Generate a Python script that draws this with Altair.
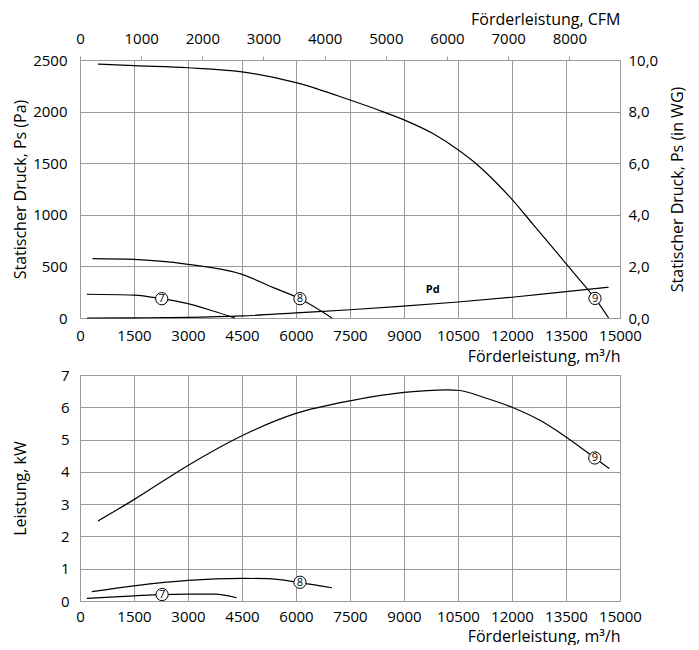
import altair as alt
import pandas as pd

# ---- top panel: static pressure (Pa) vs flow (m3/h)
c9_q = [500, 1500, 3000, 4500, 6000, 7500, 8250, 9000, 9815, 10500, 11020, 11480, 12000, 12590, 13060, 13500, 13890, 14140, 14306, 14685]
c9_p = [2460, 2445, 2425, 2385, 2280, 2112, 2020, 1920, 1785, 1630, 1490, 1340, 1150, 905, 710, 527, 365, 262, 190, 0]
c8_q = [350, 1500, 3000, 4500, 5370, 6110, 7000]
c8_p = [575, 568, 520, 423, 294, 187, 0]
c7_q = [190, 1500, 2270, 3000, 3700, 4300]
c7_p = [230, 222, 187, 140, 68, 0]
pd_q = [200, 1500, 3000, 4500, 6000, 7500, 8890, 10500, 12000, 13500, 14685]
pd_p = [0, 2, 6, 20, 50, 80, 113, 155, 201, 255, 298]

top_mark_id = ["7", "8", "9"]
top_mark_q = [2270, 6110, 14306]
top_mark_p = [187, 187, 190]

# ---- bottom panel: power (kW) vs flow (m3/h)
b9_q = [500, 1500, 3000, 4500, 6000, 7500, 9000, 10200, 10550, 11200, 12000, 12800, 13450, 14300, 14700]
b9_p = [2.48, 3.14, 4.2, 5.12, 5.81, 6.2, 6.46, 6.54, 6.52, 6.31, 6.0, 5.58, 5.12, 4.43, 4.1]
b8_q = [330, 1500, 3000, 4500, 5200, 6100, 7000]
b8_p = [0.29, 0.47, 0.64, 0.70, 0.69, 0.57, 0.41]
b7_q = [190, 1500, 2280, 3000, 3750, 4350]
b7_p = [0.08, 0.16, 0.20, 0.21, 0.21, 0.10]

bot_mark_id = ["7", "8", "9"]
bot_mark_q = [2280, 6110, 14300]
bot_mark_p = [0.20, 0.58, 4.43]

x_ticks = list(range(0, 15001, 1500))
cfm_ticks = list(range(0, 8001, 1000))
pa_ticks = list(range(0, 2501, 500))
wg_ticks = [0, 2, 4, 6, 8, 10]
kw_ticks = list(range(0, 8))

FONT = "Open Sans"
GRID = "#9a9a9a"


def long_df(pairs):
    rows = []
    for name, qs, ps in pairs:
        for q, p in zip(qs, ps):
            rows.append({"curve": name, "q": q, "p": p})
    return pd.DataFrame(rows)


top_df = long_df([("9", c9_q, c9_p), ("8", c8_q, c8_p), ("7", c7_q, c7_p), ("Pd", pd_q, pd_p)])
top_marks = pd.DataFrame({"id": top_mark_id, "q": top_mark_q, "p": top_mark_p})
bot_df = long_df([("9", b9_q, b9_p), ("8", b8_q, b8_p), ("7", b7_q, b7_p)])
bot_marks = pd.DataFrame({"id": bot_mark_id, "q": bot_mark_q, "p": bot_mark_p})


def make_x(label_pad, title_pad):
    return alt.X(
        "q:Q",
        scale=alt.Scale(domain=[0, 15000], nice=False, zero=False),
        axis=alt.Axis(values=x_ticks, format="d", title="Förderleistung, m³/h",
                      titleAnchor="end", labelPadding=label_pad, titlePadding=title_pad, ticks=False,
                      labelFlush=False, labelOverlap=False),
    )


x_top = make_x(10, 5)
x_bot = make_x(8, 4)

y_pa = alt.Y(
    "p:Q",
    scale=alt.Scale(domain=[0, 2500], nice=False),
    axis=alt.Axis(values=pa_ticks, format="d", title="Statischer Druck, Ps (Pa)",
                  labelPadding=13, titlePadding=4, ticks=False, labelOverlap=False),
)
y_kw = alt.Y(
    "p:Q",
    scale=alt.Scale(domain=[0, 7], nice=False),
    axis=alt.Axis(values=kw_ticks, format="d", title="Leistung, kW",
                  labelPadding=11, titlePadding=32, ticks=False, labelOverlap=False),
)


def panel(df, marks, xenc, yenc, extra=None):
    lines = alt.Chart(df).mark_line(color="black", strokeWidth=1.2, interpolate="monotone").encode(
        x=xenc, y=yenc, detail="curve:N"
    )
    circ = alt.Chart(marks).mark_point(
        shape="circle", filled=True, fill="white", stroke="black", strokeWidth=1, size=150, opacity=1
    ).encode(x=xenc, y=yenc)
    txt = alt.Chart(marks).mark_text(font=FONT, fontSize=11, color="black", baseline="middle", dy=0.5).encode(
        x=xenc, y=yenc, text="id:N"
    )
    layers = [lines, circ, txt]
    if extra is not None:
        layers.append(extra)
    return alt.layer(*layers)


pd_label = pd.DataFrame({"q": [9800], "p": [268], "t": ["Pd"]})
pd_txt = alt.Chart(pd_label).mark_text(font=FONT, fontSize=11, fontWeight="bold", color="black").encode(
    x=x_top, y=y_pa, text="t:N"
)

top_main = panel(top_df, top_marks, x_top, y_pa, pd_txt)

sec_df = pd.DataFrame({"cfm": [0, 8829], "wg": [0, 10]})
secondary = alt.Chart(sec_df).mark_point(opacity=0).encode(
    x=alt.X("cfm:Q", scale=alt.Scale(domain=[0, 15000 / 1.699], nice=False),
            axis=alt.Axis(orient="top", values=cfm_ticks, format="d", title="Förderleistung, CFM",
                          titleAnchor="end", grid=False, labelPadding=10, titlePadding=4,
                          ticks=True, tickSize=4, labelFlush=False, labelOverlap=False)),
    y=alt.Y("wg:Q", scale=alt.Scale(domain=[0, 10], nice=False),
            axis=alt.Axis(orient="right", values=wg_ticks, grid=False, title="Statischer Druck, Ps (in WG)",
                          labelExpr="replace(format(datum.value, '.1f'), '.', ',')",
                          titleAngle=270, titleBaseline="top", labelPadding=8, titlePadding=12,
                          ticks=False, labelOverlap=False)),
)

top = alt.layer(top_main, secondary).resolve_scale(x="independent", y="independent").properties(
    width=540, height=258
)

bottom = panel(bot_df, bot_marks, x_bot, y_kw).properties(width=540, height=226)

chart = alt.vconcat(top, bottom, spacing=2).properties(
    background="white", padding={"left": 3, "top": 2, "right": 0, "bottom": 0}
).configure_view(
    stroke=GRID, strokeWidth=1
).configure_axis(
    labelFont=FONT, titleFont=FONT, labelFontSize=15, titleFontSize=16,
    labelColor="black", titleColor="black", titleFontWeight="normal",
    grid=True, gridColor=GRID, gridWidth=1, gridOpacity=1, domain=False, tickColor=GRID,
)

chart.save("out.html", embed_options={"renderer": "svg", "actions": False})
